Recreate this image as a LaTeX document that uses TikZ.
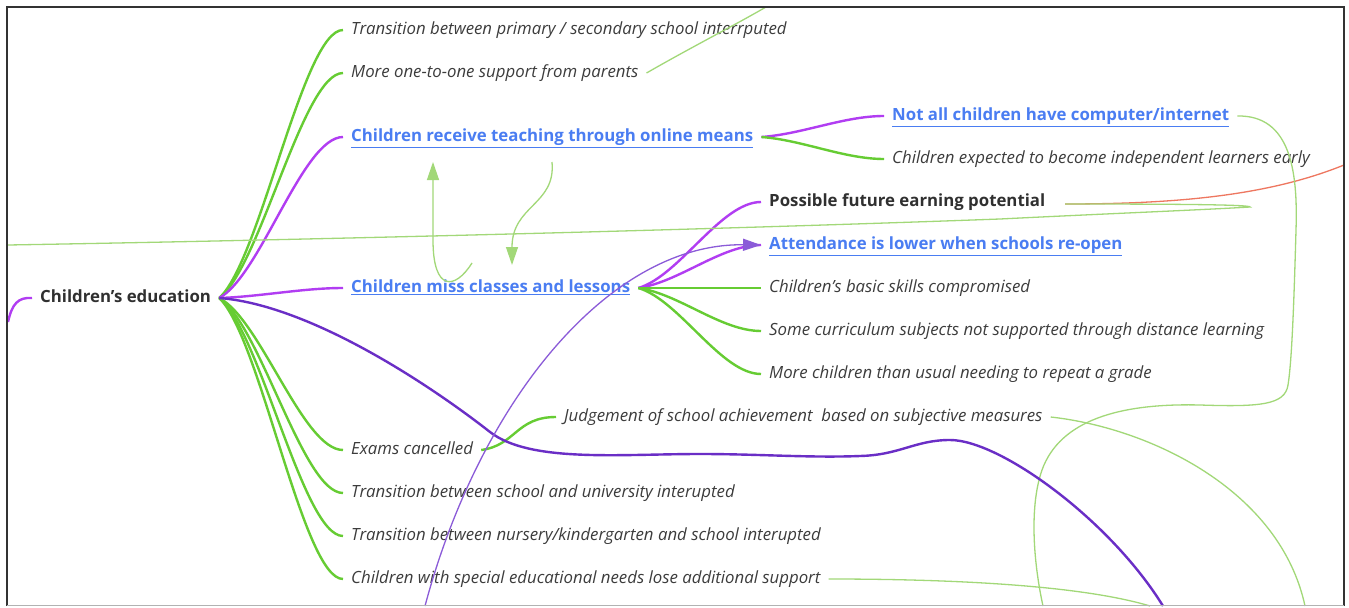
\documentclass[tikz,border=0pt]{standalone}
\usepackage{fontspec}
\setmainfont{Open Sans}
\usetikzlibrary{arrows.meta,calc}

\definecolor{branchgreen}{HTML}{66CC33}
\definecolor{branchpink}{HTML}{B13DF2}
\definecolor{deepviolet}{HTML}{6A2EC6}
\definecolor{thinviolet}{HTML}{8B5BD8}
\definecolor{relgreen}{HTML}{A2D878}
\definecolor{relred}{HTML}{EE7760}
\definecolor{linkblue}{HTML}{4A7DF2}
\definecolor{inkgray}{HTML}{3C3C3C}

\begin{document}
\begin{tikzpicture}[
    x=1pt, y=-1pt,
    leaf/.style={anchor=west, inner xsep=8pt, inner ysep=0pt, text height=12.5pt, text depth=3.5pt, font=\fontsize{16.8}{19}\selectfont\itshape, text=inkgray},
    link/.style={leaf, font=\fontsize{16.8}{19}\selectfont\bfseries, text=linkblue},
    topic/.style={leaf, font=\fontsize{16.8}{19}\selectfont\bfseries, text=inkgray!80!black},
    curvy/.style={to path={.. controls ($(\tikztostart)!.14!(\tikztotarget)+(24,0)$) and ([xshift=-40pt]\tikztotarget) .. (\tikztotarget)}},
    grn/.style={draw=branchgreen, line width=2.4pt, curvy},
    pnk/.style={draw=branchpink, line width=2.4pt, curvy},
    rel/.style={draw=relgreen, line width=1.3pt}
]
    \fill[white] (0,0) rectangle (1349,606);

    % Central topic
    \node[topic] (edu) at (32,298) {Children's education};
    \coordinate (offleft) at (8,322);

    % First level
    \node[leaf] (prim) at (343,30) {Transition between primary / secondary school interrputed};
    \node[leaf] (parents) at (343,73) {More one-to-one support from parents};
    \node[link] (teach) at (343,137) {\underline{Children receive teaching through online means}};
    \node[link] (miss) at (343,288) {\underline{Children miss classes and lessons}};
    \node[leaf] (exams) at (343,450) {Exams cancelled};
    \node[leaf] (univ) at (343,493) {Transition between school and university interupted};
    \node[leaf] (nursery) at (343,536) {Transition between nursery/kindergarten and school interupted};
    \node[leaf] (sen) at (343,579) {Children with special educational needs lose additional support};

    % Online teaching
    \node[link] (nocomp) at (884,116) {\underline{Not all children have computer/internet}};
    \node[leaf] (indep) at (884,159) {Children expected to become independent learners early};

    % Missed lessons
    \node[topic] (future) at (761,202) {Possible future earning potential};
    \node[link] (attend) at (761,245) {\underline{Attendance is lower when schools re-open}};
    \node[leaf] (basic) at (761,288) {Children's basic skills compromised};
    \node[leaf] (curric) at (761,331) {Some curriculum subjects not supported through distance learning};
    \node[leaf] (repeat) at (761,374) {More children than usual needing to repeat a grade};

    % Exams
    \node[leaf] (judge) at (556,417) {Judgement of school achievement\ \ based on subjective measures};

    % Branches
    \draw[branchpink, line width=2.4pt] (offleft) .. controls (12,304) and (18,297) .. (edu.west);
    \foreach \n in {prim,parents,exams,univ,nursery,sen}
        \draw[grn] (edu.east) to (\n.west);
    \foreach \n in {teach,miss}
        \draw[pnk] (edu.east) to (\n.west);
    \draw[pnk] (teach.east) to (nocomp.west);
    \draw[grn] (teach.east) to (indep.west);
    \foreach \n in {future,attend}
        \draw[pnk] (miss.east) to (\n.west);
    \foreach \n in {basic,curric,repeat}
        \draw[grn] (miss.east) to (\n.west);
    \draw[grn] (exams.east) to (judge.west);

    % Relationships
    \coordinate (offtop) at (766,7);
    \coordinate (offright) at (1344,165);
    \coordinate (offwest) at (8,245);
    \coordinate (dropA) at (1043,606);
    \coordinate (dropB) at (1305,606);
    \coordinate (dropC) at (1150,606);
    \coordinate (dropD) at (1163,606);
    \coordinate (dropE) at (425,606);
    \coordinate (futR) at (1065,204);
    \coordinate (missUp) at (472,263);
    \coordinate (teachUp) at (433,162);
    \coordinate (teachDn) at (552,162);
    \coordinate (missDn) at (512,265);

    \draw[rel] (parents.east) .. controls (690,48) and (735,25) .. (offtop);
    \draw[relred, line width=1.3pt] (futR) .. controls (1180,204) and (1270,195) .. (offright);
    \draw[rel] (futR) .. controls (1200,204) and (1250,205) .. (1250,207)
        .. controls (1200,210) and (1100,214) .. (1000,219)
        .. controls (700,230) and (300,240) .. (offwest);
    \draw[rel] (nocomp.east) .. controls (1290,115) and (1298,170) .. (1296,230)
        .. controls (1294,300) and (1292,360) .. (1288,385)
        .. controls (1285,405) and (1260,407) .. (1200,405)
        .. controls (1120,403) and (1060,420) .. (1042,470)
        .. controls (1028,510) and (1035,570) .. (dropA);
    \draw[rel] (judge.east) .. controls (1150,428) and (1280,490) .. (dropB);
    \draw[rel] (sen.east) .. controls (950,579) and (1080,585) .. (dropC);
    \draw[rel, -{Triangle[length=18pt,width=12pt]}] (missUp) .. controls (455,290) and (433,292) .. (433,240) -- (teachUp);
    \draw[rel, -{Triangle[length=18pt,width=12pt]}] (teachDn) .. controls (556,205) and (512,205) .. (missDn);

    \draw[deepviolet, line width=2.4pt] (edu.east) .. controls (310,305) and (430,385) .. (490,432)
        .. controls (530,463) and (620,454) .. (700,454)
        .. controls (760,454) and (810,458) .. (860,456)
        .. controls (900,455) and (915,440) .. (950,440)
        .. controls (1000,440) and (1110,520) .. (dropD);
    \draw[thinviolet, line width=1.3pt, -{Triangle[length=18pt,width=12pt]}] (dropE) .. controls (480,400) and (610,243) .. (attend.west);

    % Frame
    \draw[black!80, line width=2pt] (7,606) -- (7,7) -- (1344,7) -- (1344,606);
    \draw[black!30, line width=1pt] (7,605) -- (1344,605);
\end{tikzpicture}
\end{document}
